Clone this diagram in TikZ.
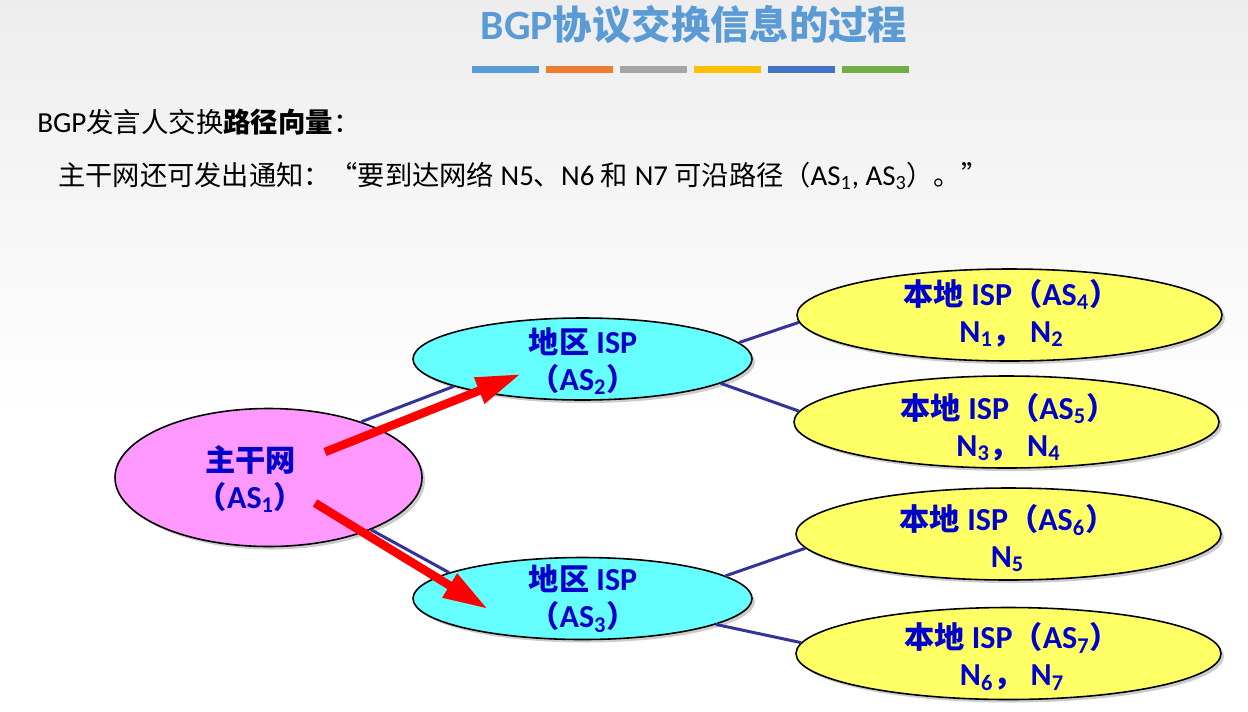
\documentclass[tikz,border=0pt]{standalone}
\usepackage{fontspec}
\setmainfont{Carlito}[Scale=1.06]
\newfontfamily\cjk{Noto Sans CJK SC}
\usetikzlibrary{shapes.geometric,arrows.meta,shadows}
\definecolor{TitleBlue}{HTML}{5B9BD5}
\definecolor{BarOrange}{HTML}{ED7D31}
\definecolor{BarGray}{HTML}{A5A5A5}
\definecolor{BarGold}{HTML}{FFC000}
\definecolor{BarBlue}{HTML}{4472C4}
\definecolor{BarGreen}{HTML}{70AD47}
\definecolor{CorePink}{HTML}{FF99FF}
\definecolor{RegCyan}{HTML}{66FFFF}
\definecolor{LocYellow}{HTML}{FFFF66}
\definecolor{LabelBlue}{HTML}{0000CC}
\definecolor{LinkNavy}{HTML}{333399}

\begin{document}
\begin{tikzpicture}[
      oval/.style={ellipse,draw=black,line width=0.9pt,inner sep=0pt,
        drop shadow={shadow xshift=0.06cm,shadow yshift=-0.06cm,fill=black!20,opacity=1}},
      core/.style={oval,fill=CorePink,minimum width=6.14cm,minimum height=2.76cm},
      regional/.style={oval,fill=RegCyan,minimum width=6.78cm,minimum height=1.64cm},
      local/.style={oval,fill=LocYellow,minimum width=8.5cm,minimum height=1.84cm},
      tag/.style={align=center,text=LabelBlue,inner sep=0pt,font=\bfseries\fontsize{17.2}{21}\selectfont},
      link/.style={LinkNavy,line width=1.7pt},
      adv/.style={-{Triangle[length=0.9cm,width=0.52cm]},red,line width=0.17cm}]
    \fill[white] (0,0) rectangle (24.96,-14.22);
    \shade[top color=black!7,bottom color=white] (0,0) rectangle (24.96,-8.4);
    \useasboundingbox (0,0) rectangle (24.96,-14.22);

    % title and colour strip
    \node[font=\bfseries\fontsize{22.4}{26}\selectfont,text=TitleBlue] (title) at (13.88,-0.5) {BGP{\cjk 协议交换信息的过程}};
    \foreach \c [count=\i from 0] in {TitleBlue,BarOrange,BarGray,BarGold,BarBlue,BarGreen}
      \fill[\c] (9.44+1.48*\i,-1.31) rectangle ++(1.34,-0.15);

    \node[anchor=west,inner sep=0pt,font=\fontsize{15.6}{18}\selectfont] (say) at (0.74,-2.44)
      {BGP{\cjk 发言人交换\textbf{路径向量}：}};
    \node[anchor=west,inner sep=0pt,font=\fontsize{15.5}{18}\selectfont] (notice) at (1.16,-3.52)
      {{\cjk 主干网还可发出通知：“要到达网络} N5{\cjk 、}N6 {\cjk 和} N7 {\cjk 可沿路径（}AS\textsubscript{1}, AS\textsubscript{3}{\cjk ）。”}};

    % autonomous systems
    \node[core] (as1) at (5.37,-9.55) {};
    \node[regional] (as2) at (11.65,-7.18) {};
    \node[regional] (as3) at (11.65,-11.97) {};
    \node[local] (as4) at (20.19,-6.30) {};
    \node[local] (as5) at (20.13,-8.44) {};
    \node[local] (as6) at (20.17,-10.68) {};
    \node[local] (as7) at (20.17,-13.07) {};

    \draw[link] (as1.31) -- (as2.192);
    \draw[link] (as1.333) -- (as3.169);
    \draw[link] (as2.6) -- (as4.182);
    \draw[link] (as2.350) -- (as5.177);
    \draw[link] (as3.9) -- (as6.184);
    \draw[link] (as3.349) -- (as7.177);

    \node[tag] (as1t) at (5.01,-9.58) {{\cjk 主干网}\\{\cjk （}AS\textsubscript{1}{\cjk ）}};
    \node[tag] (as2t) at (11.66,-7.22) {{\cjk 地区} ISP\\{\cjk （}AS\textsubscript{2}{\cjk ）}};
    \node[tag] (as3t) at (11.66,-11.97) {{\cjk 地区} ISP\\{\cjk （}AS\textsubscript{3}{\cjk ）}};
    \node[tag] (as4t) at (20.23,-6.26) {{\cjk 本地} ISP{\cjk （}AS\textsubscript{4}{\cjk ）}\\N\textsubscript{1}{\cjk ，} N\textsubscript{2}};
    \node[tag] (as5t) at (20.17,-8.54) {{\cjk 本地} ISP{\cjk （}AS\textsubscript{5}{\cjk ）}\\N\textsubscript{3}{\cjk ，} N\textsubscript{4}};
    \node[tag] (as6t) at (20.15,-10.76) {{\cjk 本地} ISP{\cjk （}AS\textsubscript{6}{\cjk ）}\\N\textsubscript{5}};
    \node[tag] (as7t) at (20.24,-13.13) {{\cjk 本地} ISP{\cjk （}AS\textsubscript{7}{\cjk ）}\\N\textsubscript{6}{\cjk ，} N\textsubscript{7}};

    % path vector announcements
    \coordinate (tailA) at (6.50,-9.04);
    \coordinate (tipA) at (10.42,-7.48);
    \coordinate (tailB) at (6.30,-10.06);
    \coordinate (tipB) at (9.76,-12.18);
    \draw[adv] (tailA) -- (tipA);
    \draw[adv] (tailB) -- (tipB);
  \end{tikzpicture}
\end{document}
